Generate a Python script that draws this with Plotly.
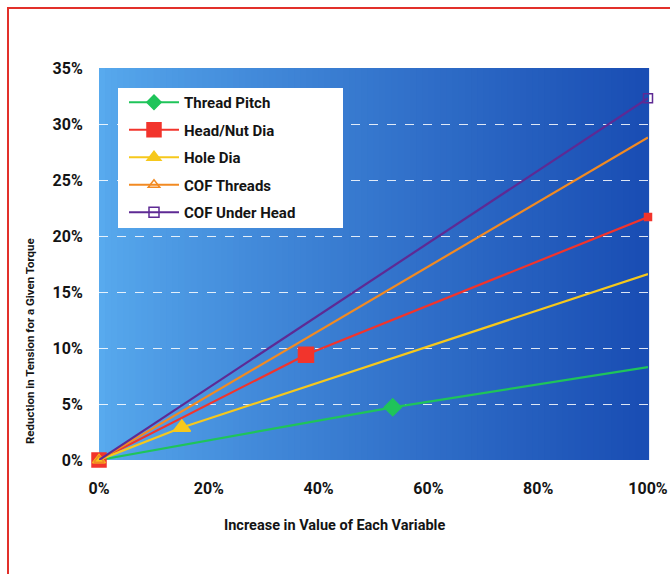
import numpy as np
import plotly.graph_objects as go

# Sensitivity of bolt tension to each design variable
series_names = ["Thread Pitch", "Head/Nut Dia", "Hole Dia", "COF Threads", "COF Under Head"]

thread_pitch_x = [0.0, 0.535, 1.0]
thread_pitch_y = [0.0, 0.047, 0.083]

head_nut_x = [0.0, 0.377, 1.0]
head_nut_y = [0.0, 0.094, 0.217]

hole_dia_x = [0.0, 0.151, 1.0]
hole_dia_y = [0.0, 0.029, 0.166]

cof_threads_x = [0.0, 1.0]
cof_threads_y = [0.0, 0.288]

cof_head_x = [0.0, 1.0]
cof_head_y = [0.0, 0.323]

x_ticks = [0.0, 0.2, 0.4, 0.6, 0.8, 1.0]
x_tick_labels = ["0%", "20%", "40%", "60%", "80%", "100%"]
y_ticks = [0.0, 0.05, 0.10, 0.15, 0.20, 0.25, 0.30, 0.35]
y_tick_labels = ["0%", "5%", "10%", "15%", "20%", "25%", "30%", "35%"]

W, H = 670, 574
L, R, T, B = 99, 22, 68, 114
PW, PH = W - L - R, H - T - B

FONT = "Roboto, Liberation Sans Narrow, sans-serif"
INK = "#141414"


def px_x(p):
    return (p - L) / PW


def px_y(p):
    return (H - B - p) / PH


fig = go.Figure()

styles = [
    dict(color="#1fc45a", symbol="diamond", size=[0, 13, 0], legend_size=11),
    dict(color="#f2342c", symbol="square", size=[14, 15, 7], legend_size=14),
    dict(color="#f6c81c", symbol="triangle-up", size=[11, 15, 0], legend_size=12),
    dict(color="#f28a22", symbol="triangle-up-open", size=[9, 0, 10], legend_size=10),
    dict(color="#5e2a94", symbol="square-open", size=[0, 9], legend_size=10),
]
data = [
    (thread_pitch_x, thread_pitch_y),
    (head_nut_x, head_nut_y),
    (hole_dia_x, hole_dia_y),
    (cof_threads_x, cof_threads_y),
    (cof_head_x, cof_head_y),
]

for name, (xs, ys), st in zip(series_names, data, styles):
    fig.add_trace(go.Scatter(
        x=xs, y=ys, name=name, mode="lines+markers",
        line=dict(color=st["color"], width=2.2),
        marker=dict(symbol=st["symbol"], size=st["size"], color=st["color"], opacity=1,
                    line=dict(width=1.5, color=st["color"])),
        cliponaxis=False, showlegend=False,
    ))

# Legend keys with uniform marker sizes
for name, st in zip(series_names, styles):
    fig.add_trace(go.Scatter(
        x=[None], y=[None], name=name, mode="lines+markers",
        line=dict(color=st["color"], width=2.2),
        marker=dict(symbol=st["symbol"], size=st["legend_size"], color=st["color"],
                    line=dict(width=1.5, color=st["color"])),
        legendgroup=name, showlegend=True,
    ))

# Blue gradient plot background
shapes = []
n_strips = 90
c0 = np.array([88, 170, 238])
c1 = np.array([26, 78, 180])
for i in range(n_strips):
    t = i / (n_strips - 1)
    c = c0 + (c1 - c0) * (t ** 0.85)
    shapes.append(dict(
        type="rect", xref="x domain", yref="y domain",
        x0=i / n_strips, x1=(i + 1) / n_strips + 0.002, y0=0, y1=1,
        fillcolor="rgb(%d,%d,%d)" % tuple(c.astype(int)), line=dict(width=0),
        layer="below",
    ))

# Legend panel
shapes.append(dict(
    type="rect", xref="paper", yref="paper",
    x0=px_x(118), x1=px_x(343), y0=px_y(228), y1=px_y(88),
    fillcolor="white", line=dict(width=0), layer="above",
))

# Red frame (top and left edges visible)
shapes.append(dict(
    type="rect", xref="paper", yref="paper",
    x0=px_x(8), x1=px_x(690), y0=px_y(600), y1=px_y(8),
    fillcolor="rgba(0,0,0,0)", line=dict(color="#e2302a", width=2), layer="above",
))

fig.update_layout(
    width=W, height=H,
    margin=dict(l=L, r=R, t=T, b=B, autoexpand=False),
    paper_bgcolor="white",
    plot_bgcolor="rgba(0,0,0,0)",
    font=dict(family=FONT, color=INK),
    shapes=shapes,
    showlegend=True,
    legend=dict(
        x=px_x(124), y=px_y(86), xanchor="left", yanchor="top",
        bgcolor="rgba(0,0,0,0)", borderwidth=0,
        font=dict(family=FONT, size=15, color=INK, weight="bold"),
        traceorder="grouped", tracegroupgap=5, itemwidth=50,
    ),
    xaxis=dict(
        range=[0, 1], tickvals=x_ticks, ticktext=x_tick_labels,
        showgrid=False, zeroline=False, showline=False, automargin=False,
        ticks="outside", ticklen=14, tickcolor="rgba(0,0,0,0)",
        ticklabeloverflow="allow",
        tickfont=dict(family=FONT, size=16, color=INK, weight="bold"),
        fixedrange=True,
    ),
    yaxis=dict(
        range=[0, 0.35], tickvals=y_ticks, ticktext=y_tick_labels,
        showgrid=True, gridcolor="rgba(255,255,255,0.85)", griddash="dash", gridwidth=1,
        zeroline=False, showline=False, automargin=False,
        ticks="outside", ticklen=12, tickcolor="rgba(0,0,0,0)",
        tickfont=dict(family=FONT, size=16, color=INK, weight="bold"),
        fixedrange=True,
    ),
    annotations=[
        dict(text="Increase in Value of Each Variable", xref="paper", yref="paper",
             x=px_x(334), y=px_y(525), xanchor="center", yanchor="middle", showarrow=False,
             font=dict(family=FONT, size=14.5, color=INK, weight="bold")),
        dict(text="Reduction in Tension for a Given Torque", xref="paper", yref="paper",
             x=px_x(30), y=px_y(341), xanchor="center", yanchor="middle", showarrow=False,
             textangle=-90,
             font=dict(family=FONT, size=11.5, color=INK, weight="bold")),
    ],
)

fig.write_html("out.html")
